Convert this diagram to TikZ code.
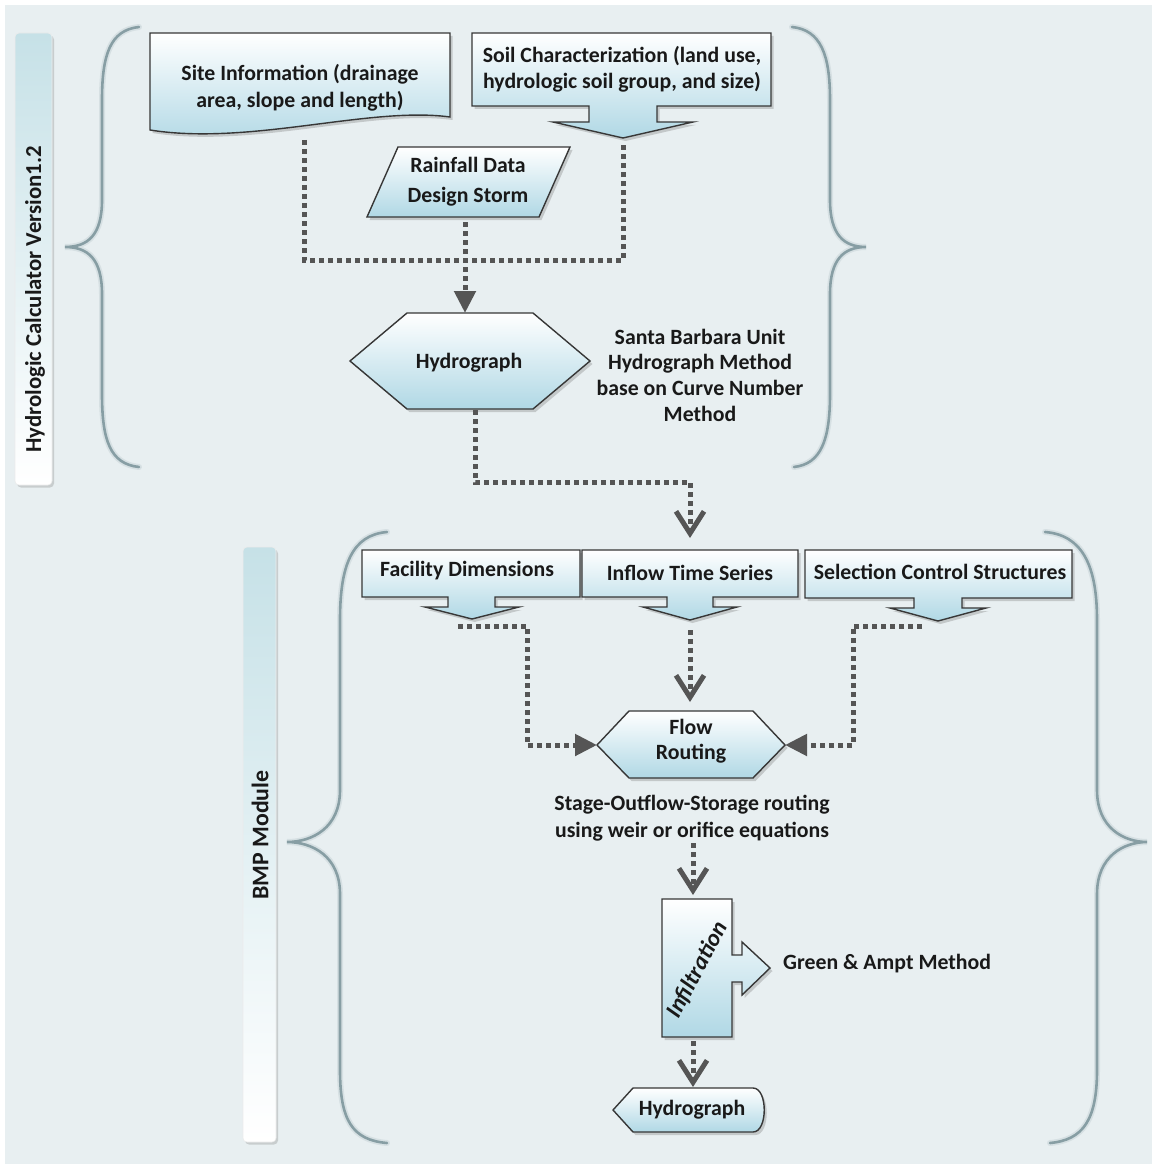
\documentclass[tikz,border=0pt]{standalone}
\usepackage{fontspec}
\setmainfont{Carlito}
\usetikzlibrary{arrows.meta,shadows}
\definecolor{bgc}{RGB}{232,239,241}
\definecolor{boxblue}{RGB}{176,216,229}
\definecolor{labblue}{RGB}{198,225,231}
\definecolor{dotc}{RGB}{85,85,85}
\definecolor{bracec}{RGB}{135,158,164}
\definecolor{edgec}{RGB}{55,55,55}
\begin{document}
\begin{tikzpicture}[x=1pt,y=-1pt,
  flowshape/.style={draw=edgec,line width=1.4pt,top color=white,bottom color=boxblue,
    drop shadow={shadow xshift=2.5pt,shadow yshift=-3pt,opacity=.35}},
  labbar/.style={rounded corners=4pt,top color=labblue,bottom color=white,draw=white!85!gray,line width=0.6pt,
    drop shadow={shadow xshift=2pt,shadow yshift=-2.5pt,opacity=.3}},
  lbl/.style={font=\fontsize{21.8}{26}\selectfont\bfseries,align=center,text=black!90,inner sep=0pt},
  sidelbl/.style={font=\fontsize{23.8}{28}\selectfont\bfseries,text=black!90,inner sep=0pt,rotate=90},
  dots/.style={draw=dotc,line width=5pt,dash pattern=on 5pt off 4pt},
  tri/.style={-{Triangle[length=22pt,width=21pt]}},
  chev/.style={-{Straight Barb[length=22pt,width=28pt]}},
  bracepath/.style={draw=bracec,line width=2.6pt,line cap=round},
  bracehalo/.style={draw=bracec,line width=6pt,opacity=.18,line cap=round}]
\useasboundingbox (0,0) rectangle (1157,1169);
\fill[white] (0,0) rectangle (1157,1169);
\fill[bgc] (5,5) rectangle (1152,1164);

% ---------- side labels ----------
\path[labbar] (15,33) rectangle (52,485);
\node[sidelbl,anchor=west,font=\fontsize{22.8}{28}\selectfont\bfseries] (lab1) at (35,453) {Hydrologic Calculator Version1.2};
\path[labbar] (243,547) rectangle (276,1142);
\node[sidelbl] (lab2) at (260,835) {BMP Module};

% ---------- braces ----------
\foreach \s in {bracehalo,bracepath}{
\draw[\s] (139,27) .. controls (110,30) and (102,55) .. (102,100) -- (102,200)
  .. controls (102,235) and (88,247) .. (65,247) .. controls (88,247) and (102,259) .. (102,294)
  -- (102,394) .. controls (102,440) and (110,464) .. (139,467);
\draw[\s] (792,27) .. controls (821,30) and (830,55) .. (830,100) -- (830,200)
  .. controls (830,235) and (844,247) .. (866,247) .. controls (844,247) and (830,259) .. (830,294)
  -- (830,394) .. controls (830,440) and (821,464) .. (794,467);
\draw[\s] (387,532) .. controls (352,535) and (340,565) .. (340,620) -- (340,790)
  .. controls (340,828) and (312,842) .. (287,842) .. controls (312,842) and (340,856) .. (340,894)
  -- (340,1070) .. controls (340,1120) and (352,1140) .. (387,1143);
\draw[\s] (1045,532) .. controls (1082,535) and (1097,565) .. (1097,620) -- (1097,790)
  .. controls (1097,828) and (1124,842) .. (1147,842) .. controls (1124,842) and (1097,856) .. (1097,894)
  -- (1097,1070) .. controls (1097,1120) and (1083,1140) .. (1050,1143);
}

% ---------- top section shapes ----------
\path[flowshape] (150,33) -- (450,33) -- (450,117) .. controls (370,106) and (250,146) .. (150,130) -- cycle;
\node[lbl,font=\fontsize{21.8}{27}\selectfont\bfseries] (site) at (300,88) {Site Information (drainage\\area, slope and length)};

\path[flowshape] (472,33) -- (771,33) -- (771,106) -- (657,106) -- (657,122) -- (693,122) -- (623,138)
  -- (553,122) -- (589,122) -- (589,106) -- (472,106) -- cycle;
\node[lbl] (soil) at (622,69) {Soil Characterization (land use,\\hydrologic soil group, and size)};

\path[flowshape] (398,147) -- (570,147) -- (539,217) -- (367,217) -- cycle;
\node[lbl,font=\fontsize{21.8}{30}\selectfont\bfseries] (rain) at (468,182) {Rainfall Data\\Design Storm};

\path[flowshape] (350,361) -- (407,313) -- (533,313) -- (590,361) -- (533,409) -- (407,409) -- cycle;
\node[lbl] (hyd1) at (469,363) {Hydrograph};

\node[lbl,font=\fontsize{21.8}{25.7}\selectfont\bfseries] (sbtext) at (700,375) {Santa Barbara Unit\\Hydrograph Method\\base on Curve Number\\Method};

% ---------- top connectors ----------
\coordinate (siteout) at (304,140);
\coordinate (soilout) at (623,142);
\coordinate (junc) at (465,260);
\draw[dots] (siteout) -- (siteout |- junc) -- (soilout |- junc) -- (soilout);
\coordinate (rainout) at (465,222);
\coordinate (hyd1in) at (465,313);
\draw[dots,tri] (rainout) -- (hyd1in);

% ---------- bottom section shapes ----------
\path[flowshape] (362,550) -- (580,550) -- (580,597) -- (495,597) -- (495,607) -- (519,607) -- (472,619)
  -- (425,607) -- (448,607) -- (448,597) -- (362,597) -- cycle;
\node[lbl] (fac) at (467,571) {Facility Dimensions};
\path[flowshape] (582,550) -- (798,550) -- (798,597) -- (713,597) -- (713,607) -- (737,607) -- (690,620)
  -- (643,607) -- (667,607) -- (667,597) -- (582,597) -- cycle;
\node[lbl] (inflow) at (690,573) {Inflow Time Series};
\path[flowshape] (805,550) -- (1072,550) -- (1072,598) -- (962,598) -- (962,608) -- (986,608) -- (938,621)
  -- (890,608) -- (914,608) -- (914,598) -- (805,598) -- cycle;
\node[lbl] (sel) at (940,572) {Selection Control Structures};

\path[flowshape] (597,745) -- (629,711) -- (753,711) -- (785,745) -- (753,778) -- (629,778) -- cycle;
\node[lbl,font=\fontsize{21.8}{25}\selectfont\bfseries] (flow) at (691,741) {Flow\\Routing};

\node[lbl,font=\fontsize{21.8}{27}\selectfont\bfseries] (stage) at (692,818) {Stage-Outflow-Storage routing\\using weir or orifice equations};

\path[flowshape] (662,899) -- (732,899) -- (732,955) -- (742,955) -- (742,942) -- (770,968) -- (742,995)
  -- (742,982) -- (732,982) -- (732,1037) -- (662,1037) -- cycle;
\node[lbl,font=\fontsize{23.5}{26}\selectfont\bfseries\itshape,rotate=62] (infil) at (697,970) {Infiltration};
\node[lbl,anchor=west] (green) at (783,964) {Green \& Ampt Method};

\path[flowshape] (613,1110) -- (633,1088) -- (753,1088) .. controls (768,1088) and (768,1132) .. (753,1132)
  -- (633,1132) -- cycle;
\node[lbl] (hyd2) at (692,1110) {Hydrograph};

% ---------- bottom connectors ----------
\coordinate (hyd1out) at (475,410);
\coordinate (bend1) at (475,482);
\coordinate (inflowin) at (690,550);
\draw[dots,chev,shorten >=12pt] (hyd1out) -- (bend1) -| (inflowin);

\coordinate (facout) at (458,626);
\coordinate (bendL) at (527,745);
\coordinate (flowL) at (597,745);
\draw[dots,tri] (facout) -| (bendL) -- (flowL);
\coordinate (selout) at (922,626);
\coordinate (bendR) at (853,745);
\coordinate (flowR) at (785,745);
\draw[dots,tri] (selout) -| (bendR) -- (flowR);

\coordinate (inflowout) at (690,630);
\coordinate (flowT) at (690,711);
\draw[dots,chev,shorten >=9pt] (inflowout) -- (flowT);

\coordinate (stageout) at (693,843);
\coordinate (infilT) at (693,899);
\draw[dots,chev,shorten >=4pt] (stageout) -- (infilT);

\coordinate (infilB) at (693,1041);
\coordinate (hyd2T) at (693,1088);
\draw[dots,chev,shorten >=1pt] (infilB) -- (hyd2T);
\end{tikzpicture}
\end{document}
